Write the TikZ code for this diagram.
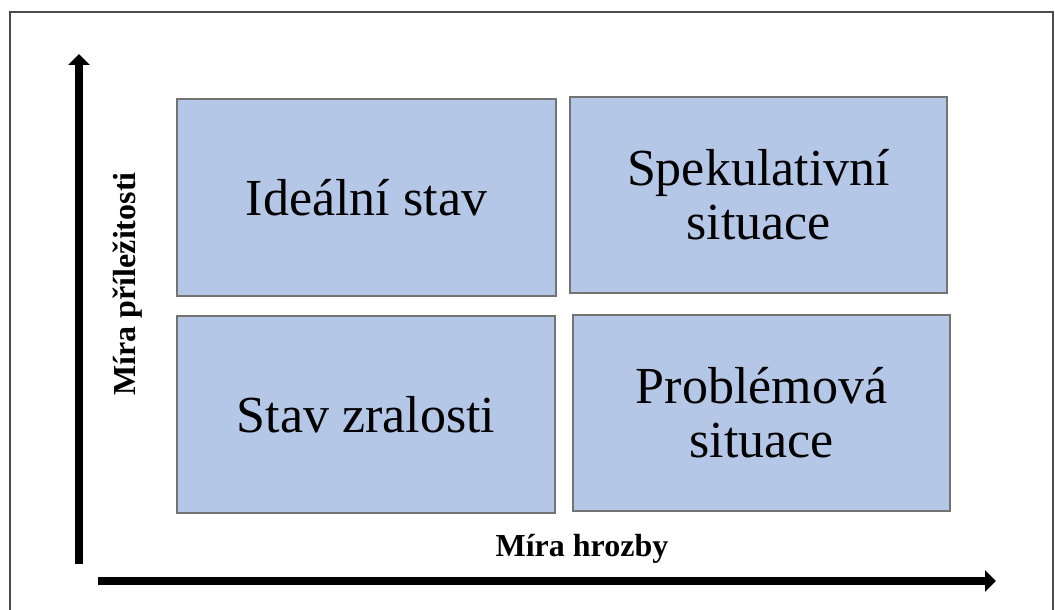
\documentclass[tikz,border=0pt]{standalone}
\usepackage{fontspec}
\setmainfont{Liberation Serif}
\usetikzlibrary{arrows.meta,positioning}

\begin{document}
\begin{tikzpicture}[x=1pt,y=-1pt,
    quad/.style={draw=black!55,line width=1.5pt,fill={rgb,255:red,180;green,199;blue,231},
      inner sep=0pt,align=center,font=\fontsize{52}{54}\selectfont},
    axis/.style={line width=8pt,-{Triangle[length=11pt,width=21pt]}},
    axlabel/.style={font=\fontsize{32}{36}\selectfont\bfseries,inner sep=0pt}]
  \useasboundingbox (0,0) rectangle (1055,610);
  \draw[black!70,line width=1.5pt] (10,615) -- (10,12) -- (1053,12) -- (1053,615);
  \node[quad,minimum width=379pt,minimum height=197pt] (ideal) at (366.5,197.5) {Ideální stav};
  \node[quad,minimum width=377pt,minimum height=196pt] (spek) at (758.5,195) {Spekulativní\\situace};
  \node[quad,minimum width=378pt,minimum height=197pt] (zral) at (366,414.5) {Stav zralosti};
  \node[quad,minimum width=377pt,minimum height=196pt] (probl) at (761.5,413) {Problémová\\situace};
  \coordinate (y0) at (79,564);
  \coordinate (y1) at (79,54);
  \coordinate (x0) at (98,581);
  \coordinate (x1) at (996,581);
  \path[axis]
    (y0) edge (y1)
    (x0) edge (x1);
  \node[axlabel,rotate=90] (ylab) at (128,284) {Míra příležitosti};
  \node[axlabel,anchor=base] (xlab) at (582,556) {Míra hrozby};
\end{tikzpicture}
\end{document}
